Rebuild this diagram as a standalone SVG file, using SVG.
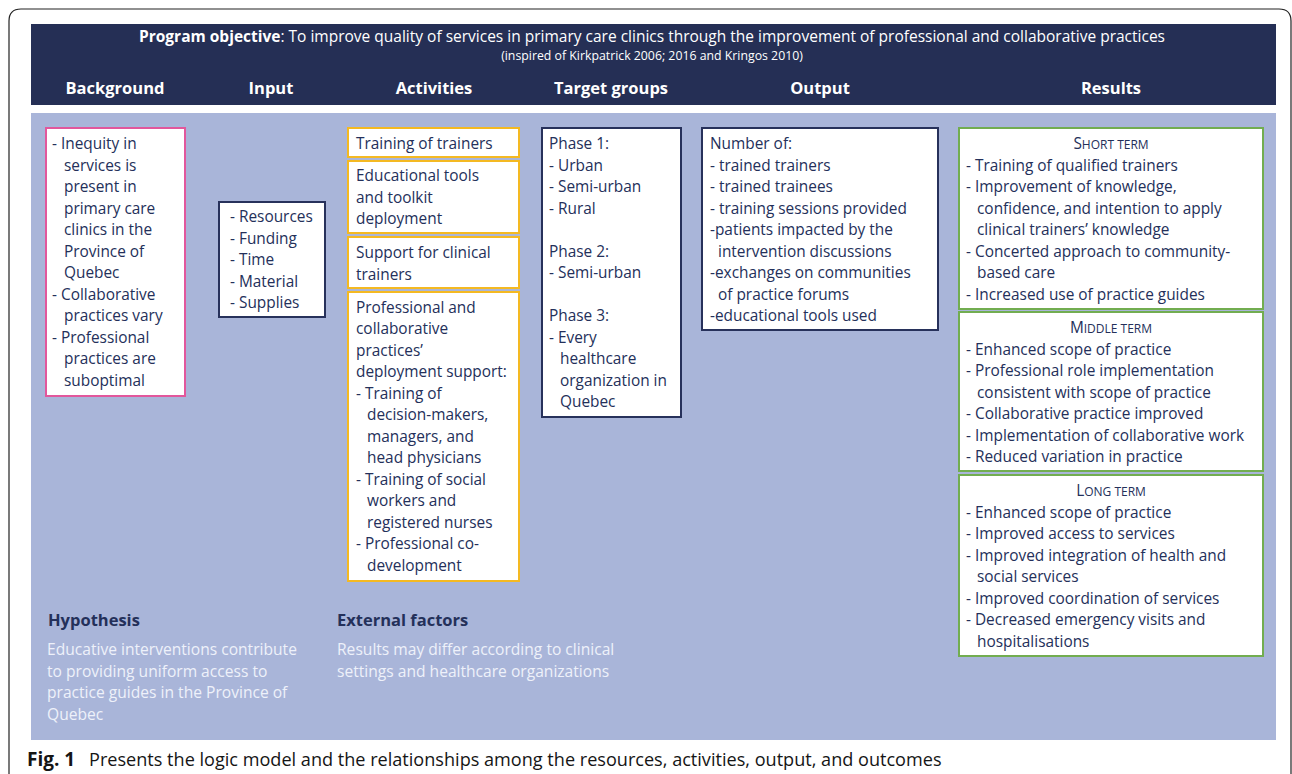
<svg xmlns="http://www.w3.org/2000/svg" width="1292" height="774" viewBox="0 0 1292 774">
  <style>
    text { font-family: "Open Sans", "Liberation Sans", sans-serif; }
    .t { font-size: 15.4px; fill: #24305a; }
    .hd { font-size: 16.5px; font-weight: bold; fill: #ffffff; }
    .box { fill: #ffffff; stroke-width: 2; }
    .pink { stroke: #e2579c; }
    .navy { stroke: #27315b; }
    .yel { stroke: #f4b922; }
    .grn { stroke: #72ad50; }
    .sc { font-size: 15.4px; fill: #24305a; text-anchor: middle; }
    .sc tspan.s { font-size: 12px; }
    .sub { font-size: 16.5px; font-weight: bold; fill: #24305a; }
    .lt { font-size: 15.6px; fill: #eef1fa; }
  </style>

  <!-- page frame -->
  <rect x="0" y="0" width="1292" height="774" fill="#ffffff"/>
  <path d="M9,774 V21 Q9,9 21,9 H1279 Q1291,9 1291,21 V774" fill="none" stroke="#222222" stroke-width="1.2"/>

  <!-- header band -->
  <g id="header">
    <rect x="31" y="24" width="1245" height="81" fill="#252f55"/>
    <text x="652" y="42" text-anchor="middle" font-size="15.5" fill="#ffffff"><tspan font-weight="bold">Program objective</tspan>: To improve quality of services in primary care clinics through the improvement of professional and collaborative practices</text>
    <text x="652" y="60" text-anchor="middle" font-size="12.3" fill="#ffffff">(inspired of Kirkpatrick 2006; 2016 and Kringos 2010)</text>
    <text class="hd" x="115" y="94" text-anchor="middle">Background</text>
    <text class="hd" x="271" y="94" text-anchor="middle">Input</text>
    <text class="hd" x="434" y="94" text-anchor="middle">Activities</text>
    <text class="hd" x="611" y="94" text-anchor="middle">Target groups</text>
    <text class="hd" x="820" y="94" text-anchor="middle">Output</text>
    <text class="hd" x="1111" y="94" text-anchor="middle">Results</text>
  </g>

  <!-- body panel -->
  <rect x="31" y="113" width="1245" height="627" fill="#a9b5d9"/>

  <g id="connectors"></g>

  <g id="background">
    <rect class="box pink" x="46" y="128" width="139" height="268"/>
    <text class="t">
      <tspan x="52" y="149">- Inequity in</tspan>
      <tspan x="64" y="170.5">services is</tspan>
      <tspan x="64" y="192">present in</tspan>
      <tspan x="64" y="213.5">primary care</tspan>
      <tspan x="64" y="235">clinics in the</tspan>
      <tspan x="64" y="256.5">Province of</tspan>
      <tspan x="64" y="278">Quebec</tspan>
      <tspan x="52" y="299.5">- Collaborative</tspan>
      <tspan x="64" y="321">practices vary</tspan>
      <tspan x="52" y="342.5">- Professional</tspan>
      <tspan x="64" y="364">practices are</tspan>
      <tspan x="64" y="385.5">suboptimal</tspan>
    </text>
  </g>

  <g id="input">
    <rect class="box navy" x="219" y="202" width="106" height="115"/>
    <text class="t">
      <tspan x="230" y="222">- Resources</tspan>
      <tspan x="230" y="243.5">- Funding</tspan>
      <tspan x="230" y="265">- Time</tspan>
      <tspan x="230" y="286.5">- Material</tspan>
      <tspan x="230" y="308">- Supplies</tspan>
    </text>
  </g>

  <g id="activity-training">
    <rect class="box yel" x="348" y="128" width="171" height="29"/>
    <text class="t" x="356" y="149">Training of trainers</text>
  </g>
  <g id="activity-tools">
    <rect class="box yel" x="348" y="161" width="171" height="72"/>
    <text class="t">
      <tspan x="356" y="181">Educational tools</tspan>
      <tspan x="356" y="202.5">and toolkit</tspan>
      <tspan x="356" y="224">deployment</tspan>
    </text>
  </g>
  <g id="activity-support">
    <rect class="box yel" x="348" y="237" width="171" height="51"/>
    <text class="t">
      <tspan x="356" y="258">Support for clinical</tspan>
      <tspan x="356" y="279.5">trainers</tspan>
    </text>
  </g>
  <g id="activity-deployment">
    <rect class="box yel" x="348" y="292" width="171" height="289"/>
    <text class="t">
      <tspan x="356" y="312.5">Professional and</tspan>
      <tspan x="356" y="334">collaborative</tspan>
      <tspan x="356" y="355.5">practices’</tspan>
      <tspan x="356" y="377">deployment support:</tspan>
      <tspan x="356" y="398.5">- Training of</tspan>
      <tspan x="367" y="420">decision-makers,</tspan>
      <tspan x="367" y="441.5">managers, and</tspan>
      <tspan x="367" y="463">head physicians</tspan>
      <tspan x="356" y="484.5">- Training of social</tspan>
      <tspan x="367" y="506">workers and</tspan>
      <tspan x="367" y="527.5">registered nurses</tspan>
      <tspan x="356" y="549">- Professional co-</tspan>
      <tspan x="367" y="570.5">development</tspan>
    </text>
  </g>

  <g id="target-groups">
    <rect class="box navy" x="542" y="128" width="139" height="289"/>
    <text class="t">
      <tspan x="549" y="149">Phase 1:</tspan>
      <tspan x="549" y="170.5">- Urban</tspan>
      <tspan x="549" y="192">- Semi-urban</tspan>
      <tspan x="549" y="213.5">- Rural</tspan>
      <tspan x="549" y="256.5">Phase 2:</tspan>
      <tspan x="549" y="278">- Semi-urban</tspan>
      <tspan x="549" y="321">Phase 3:</tspan>
      <tspan x="549" y="342.5">- Every</tspan>
      <tspan x="560" y="364">healthcare</tspan>
      <tspan x="560" y="385.5">organization in</tspan>
      <tspan x="560" y="407">Quebec</tspan>
    </text>
  </g>

  <g id="output">
    <rect class="box navy" x="702" y="128" width="236" height="202"/>
    <text class="t">
      <tspan x="710" y="149">Number of:</tspan>
      <tspan x="710" y="170.5">- trained trainers</tspan>
      <tspan x="710" y="192">- trained trainees</tspan>
      <tspan x="710" y="213.5">- training sessions provided</tspan>
      <tspan x="710" y="235">-patients impacted by the</tspan>
      <tspan x="718" y="256.5">intervention discussions</tspan>
      <tspan x="710" y="278">-exchanges on communities</tspan>
      <tspan x="718" y="299.5">of practice forums</tspan>
      <tspan x="710" y="321">-educational tools used</tspan>
    </text>
  </g>

  <g id="short-term">
    <rect class="box grn" x="959" y="128" width="304" height="181"/>
    <text class="sc" x="1111" y="149">S<tspan class="s">HORT TERM</tspan></text>
    <text class="t">
      <tspan x="966" y="170.5">- Training of qualified trainers</tspan>
      <tspan x="966" y="192">- Improvement of knowledge,</tspan>
      <tspan x="977" y="213.5">confidence, and intention to apply</tspan>
      <tspan x="977" y="235">clinical trainers’ knowledge</tspan>
      <tspan x="966" y="256.5">- Concerted approach to community-</tspan>
      <tspan x="977" y="278">based care</tspan>
      <tspan x="966" y="299.5">- Increased use of practice guides</tspan>
    </text>
  </g>

  <g id="middle-term">
    <rect class="box grn" x="959" y="312" width="304" height="159"/>
    <text class="sc" x="1111" y="333">M<tspan class="s">IDDLE TERM</tspan></text>
    <text class="t">
      <tspan x="966" y="354.5">- Enhanced scope of practice</tspan>
      <tspan x="966" y="376">- Professional role implementation</tspan>
      <tspan x="977" y="397.5">consistent with scope of practice</tspan>
      <tspan x="966" y="419">- Collaborative practice improved</tspan>
      <tspan x="966" y="440.5">- Implementation of collaborative work</tspan>
      <tspan x="966" y="462">- Reduced variation in practice</tspan>
    </text>
  </g>

  <g id="long-term">
    <rect class="box grn" x="959" y="475" width="304" height="181"/>
    <text class="sc" x="1111" y="496">L<tspan class="s">ONG TERM</tspan></text>
    <text class="t">
      <tspan x="966" y="517.5">- Enhanced scope of practice</tspan>
      <tspan x="966" y="539">- Improved access to services</tspan>
      <tspan x="966" y="560.5">- Improved integration of health and</tspan>
      <tspan x="977" y="582">social services</tspan>
      <tspan x="966" y="603.5">- Improved coordination of services</tspan>
      <tspan x="966" y="625">- Decreased emergency visits and</tspan>
      <tspan x="977" y="646.5">hospitalisations</tspan>
    </text>
  </g>

  <g id="hypothesis">
    <text class="sub" x="48" y="626">Hypothesis</text>
    <text class="lt">
      <tspan x="47" y="655">Educative interventions contribute</tspan>
      <tspan x="47" y="676.5">to providing uniform access to</tspan>
      <tspan x="47" y="698">practice guides in the Province of</tspan>
      <tspan x="47" y="719.5">Quebec</tspan>
    </text>
  </g>

  <g id="external-factors">
    <text class="sub" x="337" y="626">External factors</text>
    <text class="lt">
      <tspan x="337" y="655">Results may differ according to clinical</tspan>
      <tspan x="337" y="676.5">settings and healthcare organizations</tspan>
    </text>
  </g>

  <!-- figure caption -->
  <text x="27" y="766" fill="#151515"><tspan font-size="19" font-weight="bold">Fig. 1</tspan><tspan x="89" font-size="18.1">Presents the logic model and the relationships among the resources, activities, output, and outcomes</tspan></text>
</svg>
